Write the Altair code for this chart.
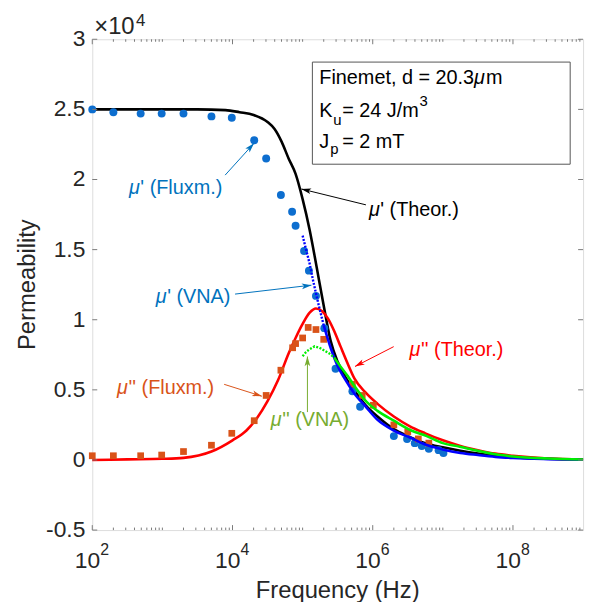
import math
import altair as alt
import pandas as pd

# ---------------- values ----------------
# frequency in Hz, permeability in units of 1e4
theor_mu1_freq = [1e2, 3.16e2, 1e3, 3.16e3, 7.94e3, 1.26e4, 2.0e4, 3.16e4, 3.98e4, 5.01e4, 6.31e4, 7.94e4,
                  1e5, 1.26e5, 1.58e5, 2.0e5, 2.51e5, 3.16e5, 3.98e5, 5.37e5, 7.94e5, 1.17e6, 2.0e6, 3.16e6,
                  5.62e6, 1e7, 1.78e7, 3.16e7, 5.62e7, 1e8, 3.16e8, 1e9]
theor_mu1_val = [2.50, 2.50, 2.50, 2.50, 2.495, 2.48, 2.46, 2.41, 2.36, 2.27, 2.15, 2.04,
                 1.86, 1.64, 1.38, 1.10, 0.85, 0.70, 0.60, 0.50, 0.39, 0.31, 0.22, 0.17,
                 0.12, 0.09, 0.065, 0.045, 0.03, 0.02, 0.008, 0.003]

theor_mu2_freq = [1e2, 3.16e2, 1e3, 2.0e3, 5.01e3, 1e4, 1.58e4, 2.24e4, 3.16e4, 4.47e4, 6.31e4, 7.94e4,
                  1e5, 1.26e5, 1.55e5, 1.9e5, 2.29e5, 2.82e5, 3.47e5, 4.37e5, 5.5e5, 7.94e5, 1.17e6,
                  2.0e6, 3.39e6, 5.62e6, 1e7, 1.78e7, 3.16e7, 5.62e7, 1e8, 3.16e8, 1e9]
theor_mu2_val = [0.0, 0.004, 0.008, 0.015, 0.06, 0.14, 0.21, 0.30, 0.42, 0.57, 0.76, 0.87,
                 0.97, 1.05, 1.08, 1.06, 1.01, 0.92, 0.81, 0.69, 0.58, 0.48, 0.40,
                 0.31, 0.24, 0.19, 0.14, 0.10, 0.07, 0.045, 0.03, 0.01, 0.003]

flux_mu1_freq = [1e2, 2e2, 4.9e2, 9.77e2, 2.0e3, 5.01e3, 9.77e3, 2.04e4, 3.02e4, 4.9e4, 7.08e4, 7.94e4,
                 1.05e5, 1.23e5, 1.55e5, 2.04e5, 2.95e5, 5.13e5, 6.61e5, 2.0e6, 3.09e6, 3.98e6,
                 5.01e6, 6.31e6, 8.71e6, 1.02e7]
flux_mu1_val = [2.50, 2.48, 2.47, 2.47, 2.47, 2.45, 2.44, 2.28, 2.15, 1.89, 1.77, 1.67,
                1.49, 1.35, 1.17, 0.94, 0.65, 0.49, 0.38, 0.17, 0.15, 0.12,
                0.10, 0.08, 0.07, 0.05]

flux_mu2_freq = [1e2, 2e2, 4.9e2, 9.77e2, 2.0e3, 5.01e3, 9.77e3, 2.04e4, 3.02e4, 4.9e4, 7.2e4, 7.94e4,
                 1e5, 1.2e5, 1.55e5, 2.0e5, 5.13e5, 7.08e5, 1.02e6, 2.0e6, 3.16e6, 4.47e6, 6.31e6]
flux_mu2_val = [0.03, 0.03, 0.03, 0.035, 0.06, 0.105, 0.19, 0.28, 0.46, 0.64, 0.80, 0.83,
                0.87, 0.945, 0.93, 0.86, 0.54, 0.46, 0.39, 0.25, 0.20, 0.15, 0.12]

vna_mu1_noisy_freq = [1e5, 1.12e5, 1.26e5, 1.41e5, 1.58e5, 1.78e5, 2.0e5]
vna_mu1_noisy_val = [1.60, 1.50, 1.40, 1.28, 1.17, 1.06, 0.96]
vna_mu1_freq = [2.0e5, 2.51e5, 3.16e5, 3.98e5, 5.37e5, 7.94e5, 1.15e6, 2.0e6, 3.39e6, 5.62e6, 1e7,
                1.78e7, 3.16e7, 5.62e7, 1e8, 3.16e8, 1e9]
vna_mu1_val = [0.96, 0.80, 0.67, 0.58, 0.48, 0.38, 0.29, 0.21, 0.16, 0.11, 0.075,
               0.05, 0.035, 0.022, 0.014, 0.006, 0.002]

vna_mu2_noisy_freq = [1e5, 1.12e5, 1.26e5, 1.48e5, 1.74e5, 2.04e5, 2.4e5, 2.82e5]
vna_mu2_noisy_val = [0.74, 0.77, 0.79, 0.81, 0.80, 0.78, 0.76, 0.73]
vna_mu2_freq = [2.82e5, 3.55e5, 4.37e5, 5.62e5, 8.32e5, 1.17e6, 2.0e6, 3.55e6, 5.89e6, 1e7,
                1.74e7, 3.16e7, 5.62e7, 1e8, 3.16e8, 1e9]
vna_mu2_val = [0.73, 0.66, 0.60, 0.52, 0.41, 0.35, 0.28, 0.21, 0.17, 0.12,
               0.095, 0.065, 0.04, 0.025, 0.01, 0.003]

y_tick_values = [-0.5, 0, 0.5, 1, 1.5, 2, 2.5, 3]
y_tick_labels = ["-0.5", "0", "0.5", "1", "1.5", "2", "2.5", "3"]
x_label_values = [1e2, 1e4, 1e6, 1e8]
x_label_exps = ["2", "4", "6", "8"]

# ---------------- layout ----------------
W, H = 495, 495
LEFT, TOP = 93, 37          # page position of the plot area (for annotation placement)
XE0, XE1 = 2, 9
Y0, Y1 = -0.5, 3.0
FONT = "Liberation Sans"
AX = "#262626"


def to_data(px, py):
    xe = XE0 + (px - LEFT) / W * (XE1 - XE0)
    y = Y1 - (py - TOP) / H * (Y1 - Y0)
    return 10 ** xe, y


xs = alt.Scale(type="log", domain=[1e2, 1e9], nice=False)
ys = alt.Scale(domain=[Y0, Y1], nice=False, zero=False)


def X(field="f"):
    return alt.X(f"{field}:Q", scale=xs, axis=None)


def Y(field="v"):
    return alt.Y(f"{field}:Q", scale=ys, axis=None)


def df(f, v):
    return pd.DataFrame({"f": f, "v": v})


black = alt.Chart(df(theor_mu1_freq, theor_mu1_val)).mark_line(
    color="black", strokeWidth=2.6, interpolate="monotone").encode(x=X(), y=Y())
red = alt.Chart(df(theor_mu2_freq, theor_mu2_val)).mark_line(
    color="#ff0000", strokeWidth=2.6, interpolate="monotone").encode(x=X(), y=Y())
dots = alt.Chart(df(flux_mu1_freq, flux_mu1_val)).mark_point(
    shape="circle", filled=True, size=64, color="#0d6ecf", opacity=1).encode(x=X(), y=Y())
squares = alt.Chart(df(flux_mu2_freq, flux_mu2_val)).mark_point(
    shape="square", filled=True, size=46, color="#d95319", opacity=1).encode(x=X(), y=Y())
blue_noisy = alt.Chart(df(vna_mu1_noisy_freq, vna_mu1_noisy_val)).mark_line(
    color="#0000ff", strokeWidth=2.4, strokeDash=[2, 1.5]).encode(x=X(), y=Y())
blue = alt.Chart(df(vna_mu1_freq, vna_mu1_val)).mark_line(
    color="#0000ff", strokeWidth=2.6, interpolate="monotone").encode(x=X(), y=Y())
green_noisy = alt.Chart(df(vna_mu2_noisy_freq, vna_mu2_noisy_val)).mark_line(
    color="#00ee00", strokeWidth=2.4, strokeDash=[2, 1.5]).encode(x=X(), y=Y())
green = alt.Chart(df(vna_mu2_freq, vna_mu2_val)).mark_line(
    color="#00ee00", strokeWidth=2.6, interpolate="monotone").encode(x=X(), y=Y())

# ---------------- annotations (page pixel positions) ----------------
annotations = [
    ("\u03bc", "' (Fluxm.)", "#0072bd", (130, 193), (227, 174), (256, 142)),
    ("\u03bc", "' (Theor.)", "#000000", (372, 215), (369, 204), (304, 188)),
    ("\u03bc", "' (VNA)", "#0072bd", (157, 303), (237, 294), (314, 285)),
    ("\u03bc", "'' (Theor.)", "#ff0000", (413, 356), (397, 347), (358, 367)),
    ("\u03bc", "'' (Fluxm.)", "#d95319", (118, 395), (226, 385), (264, 397)),
    ("\u03bc", "'' (VNA)", "#77ac30", (273, 427), (310, 413), (310, 357)),
]
t_rows, a_rows, h_rows = [], [], []
for mu, rest, col, tp, a0, a1 in annotations:
    f, v = to_data(*tp)
    t_rows.append({"f": f, "v": v, "mu": mu, "rest": rest, "c": col})
    f0, v0 = to_data(*a0)
    f1, v1 = to_data(*a1)
    a_rows.append({"f": f0, "v": v0, "f2": f1, "v2": v1, "c": col})
    dx, dy = a1[0] - a0[0], a1[1] - a0[1]
    L = math.hypot(dx, dy)
    cx, cy = a1[0] - 5.0 * dx / L, a1[1] - 5.0 * dy / L
    fc, vc = to_data(cx, cy)
    ang = math.degrees(math.atan2(dx, -dy)) % 360
    h_rows.append({"f": fc, "v": vc, "ang": ang, "c": col})
t_df, a_df, h_df = pd.DataFrame(t_rows), pd.DataFrame(a_rows), pd.DataFrame(h_rows)

ann_mu = alt.Chart(t_df).mark_text(align="left", baseline="alphabetic", font=FONT, fontSize=20,
                                   fontStyle="italic").encode(
    x=X(), y=Y(), text="mu:N", color=alt.Color("c:N", scale=None))
ann_rest = alt.Chart(t_df).mark_text(align="left", baseline="alphabetic", font=FONT, fontSize=20,
                                     dx=11.5).encode(
    x=X(), y=Y(), text="rest:N", color=alt.Color("c:N", scale=None))
arrows = alt.Chart(a_df).mark_rule(strokeWidth=1).encode(
    x=X(), y=Y(), x2="f2:Q", y2="v2:Q", color=alt.Color("c:N", scale=None))
heads = alt.Chart(h_df).mark_point(shape="M0,-1L0.55,0.9L0,0.45L-0.55,0.9Z", filled=True, size=110,
                                   opacity=1, strokeWidth=0).encode(
    x=X(), y=Y(), angle=alt.Angle("ang:Q", scale=None), color=alt.Color("c:N", scale=None))

# ---------------- text box ----------------
bf0, bv0 = to_data(315, 60)
bf1, bv1 = to_data(575, 163)
box = alt.Chart(pd.DataFrame({"f": [bf0], "v": [bv0], "f2": [bf1], "v2": [bv1]})).mark_rect(
    fill="white", stroke="#555555", strokeWidth=1).encode(x=X(), y=Y(), x2="f2:Q", y2="v2:Q")

box_items = [
    ("Finemet, d = 20.3", 322, 82, 20), ("m", 490, 82, 20),
    ("K", 322, 115, 20), ("u", 336, 123, 15), ("= 24 J/m", 345, 115, 20), ("3", 423, 104, 15),
    ("J", 322, 147, 20), ("p", 333, 153, 15), ("= 2 mT", 345, 147, 20),
]
b_rows = []
for txt, px, py, fs in box_items:
    f, v = to_data(px, py)
    b_rows.append({"f": f, "v": v, "t": txt, "fs": fs})
box_text = alt.Chart(pd.DataFrame(b_rows)).mark_text(align="left", baseline="alphabetic", font=FONT,
                                                     color="black").encode(
    x=X(), y=Y(), text="t:N", size=alt.Size("fs:Q", scale=None))
mf, mv = to_data(478, 82)
box_mu = alt.Chart(pd.DataFrame({"f": [mf], "v": [mv], "t": ["\u03bc"]})).mark_text(
    align="left", baseline="alphabetic", font=FONT, fontSize=20, fontStyle="italic", color="black").encode(
    x=X(), y=Y(), text="t:N")

# ---------------- x10^4 multiplier ----------------
m_rows = []
for txt, px, py, fs in [("\u00d710", 95, 32, 24), ("4", 137, 24, 17)]:
    f, v = to_data(px, py)
    m_rows.append({"f": f, "v": v, "t": txt, "fs": fs})
mult = alt.Chart(pd.DataFrame(m_rows)).mark_text(align="left", baseline="alphabetic", font=FONT,
                                                 color=AX).encode(
    x=X(), y=Y(), text="t:N", size=alt.Size("fs:Q", scale=None))

# ---------------- ticks (inward, MATLAB style) ----------------
x_major = [1e2, 1e4, 1e6, 1e8]
x_minor = [m * 10 ** k for k in range(2, 9) for m in range(1, 10) if not (m == 1 and 10 ** k in x_major)]
tick_col = "#7a7a7a"
xmaj_df = pd.DataFrame({"f": x_major})
xmin_df = pd.DataFrame({"f": x_minor})
ytk_df = pd.DataFrame({"v": y_tick_values, "lab": y_tick_labels})
ticks = [
    alt.Chart(xmaj_df).mark_rule(color=tick_col, strokeWidth=1).encode(x=X(), y=alt.value(H), y2=alt.value(H - 5)),
    alt.Chart(xmaj_df).mark_rule(color=tick_col, strokeWidth=1).encode(x=X(), y=alt.value(0), y2=alt.value(5)),
    alt.Chart(xmin_df).mark_rule(color=tick_col, strokeWidth=1).encode(x=X(), y=alt.value(H), y2=alt.value(H - 2.5)),
    alt.Chart(xmin_df).mark_rule(color=tick_col, strokeWidth=1).encode(x=X(), y=alt.value(0), y2=alt.value(2.5)),
    alt.Chart(ytk_df).mark_rule(color=tick_col, strokeWidth=1).encode(y=Y(), x=alt.value(0), x2=alt.value(5)),
    alt.Chart(ytk_df).mark_rule(color=tick_col, strokeWidth=1).encode(y=Y(), x=alt.value(W - 5), x2=alt.value(W)),
]

# ---------------- tick labels and axis titles ----------------
y_labels = alt.Chart(ytk_df).mark_text(align="right", baseline="middle", font=FONT, fontSize=23,
                                       color=AX).encode(y=Y(), x=alt.value(-7), text="lab:N")
xl_df = pd.DataFrame({"f": x_label_values, "base": ["10"] * 4, "e": x_label_exps})
xl_base = alt.Chart(xl_df).mark_text(align="right", baseline="alphabetic", font=FONT, fontSize=23,
                                     color=AX, dx=8).encode(x=X(), y=alt.value(570 - TOP), text="base:N")
xl_exp = alt.Chart(xl_df).mark_text(align="left", baseline="alphabetic", font=FONT, fontSize=16,
                                    color=AX, dx=8).encode(x=X(), y=alt.value(557 - TOP), text="e:N")
titles_df = pd.DataFrame({"t": ["Frequency (Hz)"]})
x_title = alt.Chart(titles_df).mark_text(align="center", baseline="alphabetic", font=FONT, fontSize=24,
                                         color=AX).encode(x=alt.value(W / 2), y=alt.value(601 - TOP), text="t:N")
y_title = alt.Chart(pd.DataFrame({"t": ["Permeability"]})).mark_text(
    align="center", baseline="alphabetic", font=FONT, fontSize=24, angle=270, color=AX).encode(
    x=alt.value(35 - LEFT), y=alt.value(H / 2), text="t:N")

chart = alt.layer(
    black, red, dots, squares, blue_noisy, blue, green_noisy, green,
    arrows, heads, ann_mu, ann_rest, box, box_text, box_mu, mult, *ticks,
    y_labels, xl_base, xl_exp, x_title, y_title
).properties(
    width=W, height=H,
    autosize=alt.AutoSizeParams(type="none"),
    padding={"left": 85, "top": 29, "right": 8, "bottom": 70},
).configure_view(stroke="#8c8c8c", strokeWidth=1).configure(background="white")

chart.save("out.html", embed_options={"renderer": "svg", "actions": False})
